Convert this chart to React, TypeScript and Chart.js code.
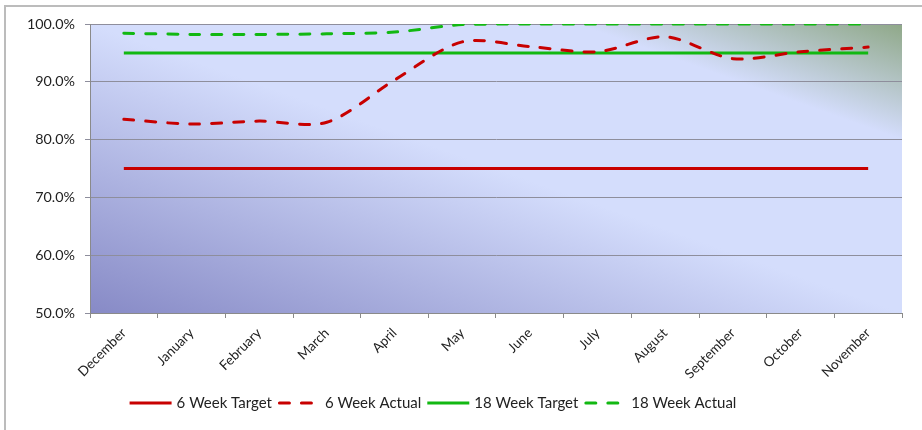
import React, { useEffect, useRef } from "react";
import { Chart, registerables } from "chart.js";

Chart.register(...registerables);

const categories = [
  "December", "January", "February", "March", "April", "May",
  "June", "July", "August", "September", "October", "November",
];
const sixWeekTarget = [75, 75, 75, 75, 75, 75, 75, 75, 75, 75, 75, 75];
const sixWeekActual = [83.5, 82.7, 83.2, 83.0, 90.3, 96.9, 96.1, 95.2, 97.8, 94.0, 95.2, 96.0];
const eighteenWeekTarget = [95, 95, 95, 95, 95, 95, 95, 95, 95, 95, 95, 95];
const eighteenWeekActual = [98.4, 98.2, 98.2, 98.3, 98.6, 99.9, 100, 100, 100, 100, 100, 100];
const yTicks = [50, 60, 70, 80, 90, 100];

const RED = "#c80000";
const GREEN = "#12b812";
const FONT = "Lato, 'Open Sans', sans-serif";

const bgPlugin = {
  id: "bgPlugin",
  beforeDraw(chart: any) {
    const { ctx, chartArea: a } = chart;
    ctx.save();
    ctx.strokeStyle = "#bcbcbc";
    ctx.lineWidth = 2;
    ctx.beginPath();
    ctx.moveTo(5, 430);
    ctx.lineTo(5, 6);
    ctx.lineTo(922, 6);
    ctx.stroke();
    ctx.translate(a.left, a.top);
    ctx.scale(a.right - a.left, a.bottom - a.top);
    const g = ctx.createLinearGradient(0, 1, 1, 0);
    g.addColorStop(0, "#878ac6");
    g.addColorStop(0.5, "#d4ddfc");
    g.addColorStop(0.8, "#d4ddfc");
    g.addColorStop(1, "#8fa888");
    ctx.fillStyle = g;
    ctx.fillRect(0, 0, 1, 1);
    ctx.restore();
  },
  afterDraw(chart: any) {
    const ctx = chart.ctx;
    const ds = chart.data.datasets;
    ctx.save();
    ctx.font = `15px ${FONT}`;
    ctx.textBaseline = "middle";
    ctx.textAlign = "left";
    const sw = 42;
    const gapA = 5;
    const gapB = 6;
    const widths = ds.map((d: any) => ctx.measureText(d.label).width);
    const total = widths.reduce((s: number, w: number) => s + sw + gapA + w, 0) + gapB * (ds.length - 1);
    let x = 433 - total / 2;
    const y = 403;
    ds.forEach((d: any, i: number) => {
      const dashed = d.borderDash && d.borderDash.length;
      ctx.strokeStyle = d.borderColor;
      ctx.lineWidth = 3;
      ctx.lineCap = dashed ? "round" : "butt";
      ctx.setLineDash(d.borderDash || []);
      ctx.beginPath();
      ctx.moveTo(x + (dashed ? 1.5 : 0), y);
      ctx.lineTo(x + sw, y);
      ctx.stroke();
      ctx.setLineDash([]);
      ctx.fillStyle = "#222";
      ctx.fillText(d.label, x + sw + gapA, y);
      x += sw + gapA + widths[i] + gapB;
    });
    ctx.restore();
  },
};

export default function App() {
  const ref = useRef<HTMLCanvasElement>(null);
  useEffect(() => {
    if (!ref.current) return;
    const common = { pointRadius: 0, borderWidth: 3, tension: 0.3, fill: false };
    const chart = new Chart(ref.current, {
      type: "line",
      data: {
        labels: categories,
        datasets: [
          { label: "6 Week Target", data: sixWeekTarget, borderColor: RED, ...common },
          { label: "6 Week Actual", data: sixWeekActual, borderColor: RED, borderDash: [10, 12], borderCapStyle: "round", ...common },
          { label: "18 Week Target", data: eighteenWeekTarget, borderColor: GREEN, ...common },
          { label: "18 Week Actual", data: eighteenWeekActual, borderColor: GREEN, borderDash: [10, 12], borderCapStyle: "round", ...common },
        ],
      },
      options: {
        responsive: false,
        animation: false,
        devicePixelRatio: 1,
        layout: { padding: { top: 24, right: 20, left: 0, bottom: 0 } },
        plugins: { legend: { display: false }, tooltip: { enabled: false } },
        scales: {
          x: {
            offset: true,
            grid: { drawOnChartArea: false, drawTicks: true, tickLength: 5, color: "#8a8a8a", offset: true },
            border: { color: "#8a8a8a", width: 1 },
            ticks: {
              minRotation: 45,
              maxRotation: 45,
              padding: 7,
              color: "#222",
              font: { family: FONT, size: 13.5 },
              autoSkip: false,
            },
            afterFit(scale: any) { scale.height = 117; },
          },
          y: {
            min: 50,
            max: 100,
            afterBuildTicks(scale: any) { scale.ticks = yTicks.map((v) => ({ value: v })); },
            grid: { color: "#8e8e9c", tickLength: 5, lineWidth: 1 },
            border: { color: "#8a8a8a", width: 1 },
            ticks: {
              padding: 10,
              color: "#222",
              font: { family: FONT, size: 14.3 },
              callback: (v: any) => Number(v).toFixed(1) + "%",
            },
            afterFit(scale: any) { scale.width = 90; },
          },
        },
      },
      plugins: [bgPlugin],
    } as any);
    return () => chart.destroy();
  }, []);
  return (
    <canvas
      ref={ref}
      width={922}
      height={430}
      style={{ position: "fixed", left: 0, top: 0, width: 922, height: 430, background: "#fff" }}
    />
  );
}
